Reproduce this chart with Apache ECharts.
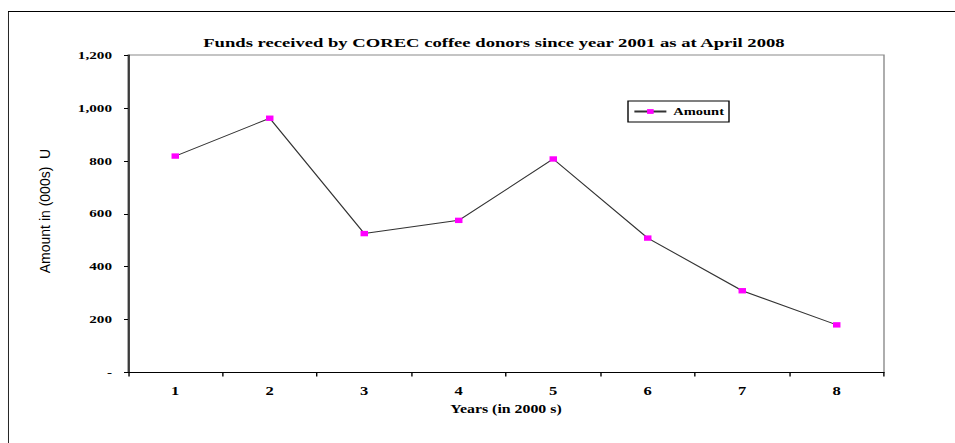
<!DOCTYPE html>
<html>
<head>
<meta charset="utf-8">
<style>
  html, body { margin: 0; padding: 0; background: #ffffff; overflow: hidden; }
  #wrap { width: 955px; height: 443px; overflow: hidden; }
  /* the chart is laid out narrow and widened, which gives its wide lettering and flat markers */
  #chart { height: 443px; transform-origin: 0 0; }
</style>
<script src="https://cdn.jsdelivr.net/npm/echarts@6/dist/echarts.min.js"></script>
</head>
<body>
<div id="wrap"><div id="chart"></div></div>
<script>
// Years since 2001 (1 = 2001 ... 8 = 2008)
const years = ['1', '2', '3', '4', '5', '6', '7', '8'];
// Funds received, in thousands
const amounts = [818, 961, 525, 575, 807, 508, 309, 180];
// Value axis ticks
const yMin = 0;
const yMax = 1200;
const yStep = 200;

// horizontal widening factor and the narrow layout width
const SX = 1.38;
const PAGE_W = 955;
const W = PAGE_W / SX;
const px = (x) => x / SX;   // page x -> layout x

const serif = '"Liberation Serif", "Times New Roman", serif';
const sans = '"Liberation Sans", Arial, sans-serif';

function thousands(v) {
  if (v === 0) return '-';
  return String(v).replace(/\B(?=(\d{3})+(?!\d))/g, ',');
}

const el = document.getElementById('chart');
el.style.width = W + 'px';
el.style.transform = 'scaleX(' + SX + ')';

const chart = echarts.init(el, null, { renderer: 'svg', width: W, height: 443 });

const gridLeft = px(128);
const gridRight = W - px(884);

chart.setOption({
  animation: false,
  backgroundColor: '#ffffff',
  title: {
    text: 'Funds received by COREC coffee donors since year 2001 as at April 2008',
    left: px(487),
    textAlign: 'center',
    top: 31,
    textStyle: { fontFamily: serif, fontWeight: 'bold', fontSize: 13.5, color: '#000000' }
  },
  legend: {
    data: ['Amount'],
    left: px(628),
    top: 101,
    orient: 'horizontal',
    itemWidth: px(32),
    itemHeight: 6,
    padding: [5, px(5), 5, px(5)],
    borderColor: '#000000',
    borderWidth: 1,
    borderRadius: 0,
    textStyle: { fontFamily: serif, fontWeight: 'bold', fontSize: 10.5, color: '#000000' }
  },
  grid: {
    left: gridLeft,
    right: gridRight,
    top: 55,
    bottom: 443 - 372.5,
    show: true,
    borderColor: '#8a8a8a',
    borderWidth: 1,
    containLabel: false
  },
  xAxis: {
    type: 'category',
    data: years,
    boundaryGap: true,
    name: 'Years (in 2000 s)',
    nameLocation: 'middle',
    nameGap: 31,
    nameTextStyle: { fontFamily: serif, fontWeight: 'bold', fontSize: 11.5, color: '#000000' },
    axisLine: { lineStyle: { color: '#000000', width: 1 } },
    axisTick: { show: true, inside: false, length: 4, alignWithLabel: false, lineStyle: { color: '#000000' } },
    axisLabel: { margin: 12, fontFamily: serif, fontWeight: 'bold', fontSize: 12, color: '#000000' },
    splitLine: { show: false }
  },
  yAxis: {
    type: 'value',
    min: yMin,
    max: yMax,
    interval: yStep,
    axisLine: { show: true, lineStyle: { color: '#000000', width: 1 } },
    axisTick: { show: true, inside: false, length: px(4), lineStyle: { color: '#000000' } },
    axisLabel: {
      margin: px(16),
      fontFamily: serif,
      fontWeight: 'bold',
      fontSize: 11,
      color: '#000000',
      formatter: thousands
    },
    splitLine: { show: false }
  },
  series: [{
    name: 'Amount',
    type: 'line',
    data: amounts,
    symbol: 'rect',
    symbolSize: 5.4,
    lineStyle: { color: '#333333', width: 1 },
    itemStyle: { color: '#ff00ff', borderWidth: 0 },
    emphasis: { disabled: true }
  }],
  graphic: [
    // vertical axis title, kept at its natural proportions
    {
      type: 'text',
      silent: true,
      x: px(45),
      y: 211,
      rotation: Math.PI / 2,
      scaleY: 1 / SX,
      style: {
        text: 'Amount in (000s)  U',
        fontFamily: sans,
        fontSize: 14,
        fill: '#000000',
        align: 'center',
        verticalAlign: 'middle'
      }
    },
    // outer frame, open on the right and bottom
    { type: 'line', silent: true, shape: { x1: px(8), y1: 11.5, x2: W, y2: 11.5 }, style: { stroke: '#000000', lineWidth: 1 } },
    { type: 'line', silent: true, shape: { x1: px(8.5), y1: 11.5, x2: px(8.5), y2: 443 }, style: { stroke: '#000000', lineWidth: px(1) } }
  ]
});
</script>
</body>
</html>
